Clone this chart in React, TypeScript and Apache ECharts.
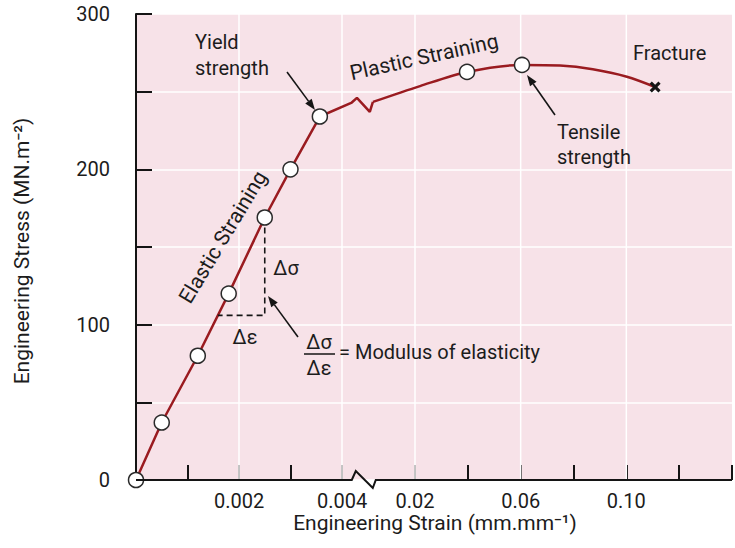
import React, { useEffect, useRef } from "react";
import * as echarts from "echarts";

// ---- axis ticks / labels ----
const stressLabels = [0, 100, 200, 300];
const elasticTicks = [0.001, 0.002, 0.003, 0.004];
const elasticLabels = [0.002, 0.004];
const elasticGrid = [0.002, 0.004];
const plasticTicks = [0.02, 0.04, 0.06, 0.08, 0.1, 0.12, 0.14];
const plasticLabels = [0.02, 0.06, 0.1];
const plasticGrid = [0.02, 0.06, 0.1];

// ---- data (strain, stress MN/m²) ----
const elasticPoints: [number, number][] = [
  [0, 0], [0.0005, 37], [0.0012, 80], [0.0018, 120], [0.0025, 169], [0.003, 200], [0.00357, 234],
];
const elasticBreak: [number, number][] = [
  [0.00419, 243], [0.00429, 246], [0.00454, 237], [0.0046, 243.4],
];
const plasticCurve: [number, number][] = [
  [0.0041, 243.4], [0.0219, 253.6], [0.0397, 262.7], [0.0605, 267.2], [0.0749, 266.8],
  [0.0873, 264.4], [0.1002, 259.6], [0.1109, 253],
];
const plasticPoints: [number, number][] = [[0.0397, 262.7], [0.0605, 267.2]];
const fracturePoint: [number, number][] = [[0.1109, 253]];
const deltaTriangle: [number, number][] = [[0.0025, 169], [0.0025, 106], [0.00159, 106]];

const FONT = "Roboto";
const TEXT = "#1c1c1c";
const RED = "#9a1b20";
const PINK = "#f7e2e8";
const AXIS = "#141414";

export default function App() {
  const ref = useRef<HTMLDivElement>(null);
  useEffect(() => {
    const chart = echarts.init(ref.current!, null, { renderer: "svg" });
    const labelStyle = { fontSize: 20, fontFamily: FONT, color: TEXT };
    const option: any = {
      animation: false,
      grid: { left: 136, right: 3, top: 14, bottom: 68, show: true, backgroundColor: PINK, borderWidth: 0 },
      xAxis: [
        {
          type: "value", min: 0, max: 0.011573, position: "bottom",
          axisLine: { show: false, onZero: false },
          axisTick: { show: true, inside: true, length: 15, customValues: elasticTicks, lineStyle: { color: AXIS, width: 2 } },
          axisLabel: { ...labelStyle, customValues: elasticLabels, margin: 11, formatter: (v: number) => v.toFixed(3) },
          splitLine: { show: false },
        },
        {
          type: "value", min: -0.08561, max: 0.14, position: "bottom",
          axisLine: { show: false, onZero: false },
          axisTick: { show: true, inside: true, length: 15, customValues: plasticTicks, lineStyle: { color: AXIS, width: 2 } },
          axisLabel: { ...labelStyle, customValues: plasticLabels, margin: 11, formatter: (v: number) => v.toFixed(2) },
          splitLine: { show: false },
        },
      ],
      yAxis: {
        type: "value", min: 0, max: 300, interval: 50,
        axisLine: { show: true, onZero: false, lineStyle: { color: AXIS, width: 2 } },
        axisTick: { show: true, inside: true, length: 16, lineStyle: { color: AXIS, width: 2 } },
        axisLabel: { ...labelStyle, customValues: stressLabels, margin: 26 },
        splitLine: { show: true, lineStyle: { color: "#ffffff", width: 1.5 } },
      },
      series: [
        {
          type: "line", xAxisIndex: 0, data: [...elasticPoints, ...elasticBreak], showSymbol: false,
          lineStyle: { color: RED, width: 2.5 }, z: 3,
        },
        {
          type: "line", xAxisIndex: 1, data: plasticCurve, showSymbol: false, smooth: 0.3,
          lineStyle: { color: RED, width: 2.5 }, z: 3,
        },
        {
          type: "line", xAxisIndex: 0, data: deltaTriangle, showSymbol: false,
          lineStyle: { color: "#151515", width: 1.6, type: [6, 4] }, z: 3,
        },
        {
          type: "scatter", xAxisIndex: 0, data: elasticPoints, symbol: "circle", symbolSize: 15,
          itemStyle: { color: "#ffffff", borderColor: "#2a2a2a", borderWidth: 1.5, opacity: 1 }, z: 4,
        },
        {
          type: "scatter", xAxisIndex: 1, data: plasticPoints, symbol: "circle", symbolSize: 15,
          itemStyle: { color: "#ffffff", borderColor: "#2a2a2a", borderWidth: 1.5, opacity: 1 }, z: 4,
        },
        {
          type: "scatter", xAxisIndex: 1, data: fracturePoint,
          symbol: "path://M0,2L2,0L5,3L8,0L10,2L7,5L10,8L8,10L5,7L2,10L0,8L3,5Z", symbolSize: 11,
          itemStyle: { color: "#151515", opacity: 1 }, z: 4,
        },
      ],
    };
    chart.setOption(option);

    const toL = (p: number[]) => chart.convertToPixel({ xAxisIndex: 0, yAxisIndex: 0 } as any, p) as number[];
    const toR = (p: number[]) => chart.convertToPixel({ xAxisIndex: 1, yAxisIndex: 0 } as any, p) as number[];

    const els: any[] = [];
    // vertical grid lines (white), under the series
    const vline = (a: number[], b: number[]) => els.push({
      type: "line", z: 1, silent: true,
      shape: { x1: a[0], y1: a[1], x2: b[0], y2: b[1] },
      style: { stroke: "#ffffff", lineWidth: 1.5 },
    });
    elasticGrid.forEach((v) => vline(toL([v, 0]), toL([v, 300])));
    plasticGrid.forEach((v) => vline(toR([v, 0]), toR([v, 300])));

    // x axis line with break
    const o = toL([0, 0]);
    const b = toL([0.00419, 0]);
    const e = toR([0.14, 0]);
    els.push({
      type: "polyline", z: 10, silent: true,
      shape: { points: [o, b, [b[0] + 4, b[1] - 9], [b[0] + 21, b[1] + 8], [b[0] + 24, b[1]], e] },
      style: { stroke: AXIS, lineWidth: 2, fill: null },
    });

    const text = (t: string, x: number, y: number, extra: any = {}, rotation = 0) => els.push({
      type: "text", x, y, rotation, z: 6, silent: true,
      style: {
        text: t, fontSize: extra.size || 20, fontFamily: FONT, fill: TEXT,
        align: extra.align || "left", verticalAlign: "middle",
      },
    });
    const arrow = (x1: number, y1: number, x2: number, y2: number) => {
      const ang = Math.atan2(y2 - y1, x2 - x1);
      const L = 11, W = 4;
      const bx = x2 - L * Math.cos(ang), by = y2 - L * Math.sin(ang);
      els.push({
        type: "line", z: 6, silent: true,
        shape: { x1, y1, x2: bx, y2: by },
        style: { stroke: "#151515", lineWidth: 1.6 },
      });
      els.push({
        type: "polygon", z: 6, silent: true,
        shape: { points: [[x2, y2], [bx - W * Math.sin(ang), by + W * Math.cos(ang)], [bx + W * Math.sin(ang), by - W * Math.cos(ang)]] },
        style: { fill: "#151515" },
      });
    };

    // axis names
    text("Engineering Strain (mm.mm⁻¹)", 435, 523, { align: "center", size: 21 });
    text("Engineering Stress (MN.m⁻²)", 22, 251, { align: "center", size: 21 }, Math.PI / 2);

    // annotations
    text("Yield", 195, 42);
    text("strength", 195, 68);
    arrow(287, 72, 315, 110);
    text("Plastic Straining", 424, 57, { align: "center", size: 21 }, 0.218);
    text("Fracture", 633, 53);
    text("Tensile", 557, 132);
    text("strength", 557, 157);
    arrow(555, 115, 527, 75);
    text("Elastic Straining", 223, 237, { align: "center", size: 21 }, 1.03);
    text("Δσ", 286, 268, { align: "center" });
    text("Δε", 245, 337, { align: "center" });
    text("Δσ", 319, 342, { align: "center" });
    els.push({
      type: "line", z: 6, silent: true,
      shape: { x1: 304, y1: 354, x2: 335, y2: 354 },
      style: { stroke: "#151515", lineWidth: 1.5 },
    });
    text("Δε", 319, 368, { align: "center" });
    text("= Modulus of elasticity", 339, 352);
    arrow(298, 337, 268, 296);

    chart.setOption({ graphic: { elements: els } });
    return () => chart.dispose();
  }, []);
  return <div ref={ref} style={{ position: "absolute", left: 0, top: 0, width: 735, height: 548 }} />;
}
